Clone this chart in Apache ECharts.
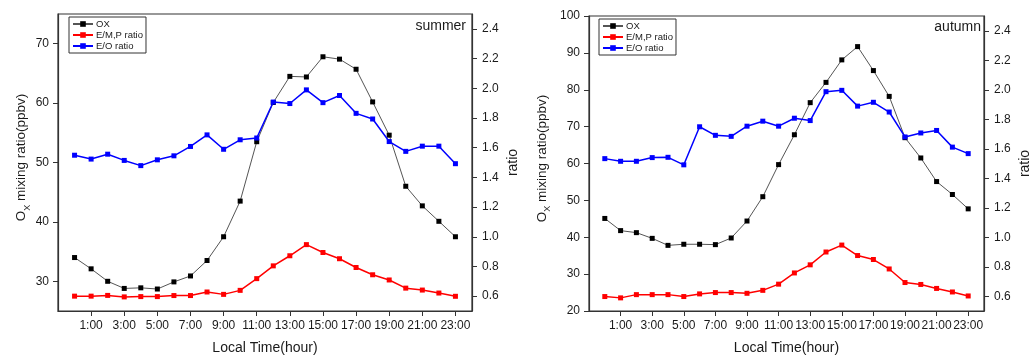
<!DOCTYPE html>
<html>
<head>
<meta charset="utf-8">
<script src="https://cdn.jsdelivr.net/npm/echarts@6/dist/echarts.min.js"></script>
<style>
html,body{margin:0;padding:0;background:#fff;}
#c{width:1033px;height:360px;}
</style>
</head>
<body>
<div id="c"></div>
<script>
// ---- data ----
const hours = [0,1,2,3,4,5,6,7,8,9,10,11,12,13,14,15,16,17,18,19,20,21,22,23];
const hourTicks = [1,3,5,7,9,11,13,15,17,19,21,23];
const seriesNames = ['OX', 'E/M,P ratio', 'E/O ratio'];
const panelTitles = ['summer', 'autumn'];

const summerOX  = [34.0,32.1,30.0,28.8,28.9,28.7,29.9,30.9,33.5,37.5,43.5,53.5,60.1,64.5,64.4,67.8,67.4,65.7,60.2,54.6,46.0,42.7,40.1,37.5];
const summerEMP = [0.60,0.60,0.605,0.595,0.597,0.597,0.604,0.604,0.628,0.612,0.639,0.718,0.804,0.872,0.947,0.894,0.852,0.793,0.744,0.709,0.654,0.641,0.621,0.599];
const summerEO  = [1.549,1.523,1.556,1.514,1.479,1.518,1.545,1.608,1.686,1.589,1.653,1.665,1.907,1.897,1.989,1.903,1.951,1.831,1.793,1.641,1.575,1.610,1.610,1.492];

const autumnOX  = [45.1,41.8,41.25,39.7,37.8,38.1,38.1,38.0,39.8,44.4,51.0,59.7,67.8,76.5,82.0,88.1,91.7,85.2,78.2,67.0,61.5,55.1,51.6,47.7];
const autumnEMP = [0.598,0.589,0.611,0.611,0.611,0.598,0.616,0.625,0.625,0.620,0.640,0.682,0.758,0.813,0.900,0.947,0.876,0.849,0.785,0.693,0.680,0.653,0.629,0.602];
const autumnEO  = [1.533,1.515,1.515,1.540,1.542,1.491,1.749,1.691,1.684,1.753,1.787,1.753,1.807,1.791,1.987,1.996,1.889,1.915,1.849,1.680,1.707,1.724,1.611,1.567];

const summerOXTicks = [30,40,50,60,70];
const ratioTicks = [0.6,0.8,1.0,1.2,1.4,1.6,1.8,2.0,2.2,2.4];

// ---- chart ----
const font = 'Liberation Sans, Arial, sans-serif';
const axisColor = '#333';
const textColor = '#1a1a1a';

function pairs(arr){ return hours.map((h,i)=>[h, arr[i]]); }

function xAxisFor(gi){
  return {
    type:'value', gridIndex:gi, min:-1, max:24,
    name:'Local Time(hour)', nameLocation:'middle', nameGap:30,
    nameTextStyle:{fontFamily:font, fontSize:14, color:textColor},
    axisLine:{show:true, onZero:false, lineStyle:{color:axisColor, width:1.2}},
    axisTick:{show:true, inside:false, length:5, customValues:hourTicks, lineStyle:{color:axisColor}},
    axisLabel:{customValues:hourTicks, formatter:v=>v+':00', fontFamily:font, fontSize:12, color:textColor, margin:9},
    splitLine:{show:false}
  };
}
function leftYAxis(gi, min, max, ticks, interval, gap){
  const a = {
    type:'value', gridIndex:gi, position:'left', min:min, max:max,
    name:'{n|O}{s|X}{n| mixing ratio(ppbv)}', nameLocation:'middle', nameGap:gap,
    nameTextStyle:{fontFamily:font, color:textColor, padding:[0,0,0,10],
      rich:{n:{fontFamily:font, fontSize:13.5, lineHeight:20, color:textColor},
            s:{fontFamily:font, fontSize:9, lineHeight:9, verticalAlign:'bottom', color:textColor}}},
    axisLine:{show:true, onZero:false, lineStyle:{color:axisColor, width:1.2}},
    axisTick:{show:true, inside:false, length:5, lineStyle:{color:axisColor}},
    axisLabel:{fontFamily:font, fontSize:12, color:textColor, margin:9},
    splitLine:{show:false}
  };
  if (ticks){ a.axisTick.customValues = ticks; a.axisLabel.customValues = ticks; }
  if (interval){ a.interval = interval; }
  return a;
}
function rightYAxis(gi){
  return {
    type:'value', gridIndex:gi, position:'right', min:0.5, max:2.5,
    name:'ratio', nameLocation:'middle', nameGap:34,
    nameTextStyle:{fontFamily:font, fontSize:14, color:textColor},
    axisLine:{show:true, onZero:false, lineStyle:{color:axisColor, width:1.2}},
    axisTick:{show:true, inside:false, length:5, customValues:ratioTicks, lineStyle:{color:axisColor}},
    axisLabel:{customValues:ratioTicks, formatter:v=>v.toFixed(1), fontFamily:font, fontSize:12, color:textColor, margin:10},
    splitLine:{show:false}
  };
}
function lineSeries(name, xi, yi, arr, color, width, lineColor){
  return {
    name:name, type:'line', xAxisIndex:xi, yAxisIndex:yi, data:pairs(arr),
    symbol:'rect', symbolSize:5, showSymbol:true,
    itemStyle:{color:color},
    lineStyle:{color:lineColor||color, width:width},
    emphasis:{disabled:true}, animation:false, z:yi
  };
}
function legendFor(left, top){
  return {
    orient:'vertical', left:left, top:top, padding:[2,3,2,3], itemGap:1,
    itemWidth:20, itemHeight:7, borderColor:'#333', borderWidth:1,
    data:seriesNames, selectedMode:false,
    textStyle:{fontFamily:font, fontSize:9.5, color:textColor, padding:[0,0,0,-2]}
  };
}

const option = {
  backgroundColor:'#fff',
  animation:false,
  title:[
    {text:panelTitles[0], right:1033-466, top:19, padding:0, textStyle:{fontFamily:font, fontSize:14, fontWeight:'normal', color:textColor}},
    {text:panelTitles[1], right:1033-981, top:20, padding:0, textStyle:{fontFamily:font, fontSize:14, fontWeight:'normal', color:textColor}}
  ],
  legend:[legendFor(69,17), legendFor(599,19)],
  grid:[
    {left:58, top:14, right:1033-472, bottom:44, show:true, borderColor:axisColor, borderWidth:1.2, backgroundColor:'transparent'},
    {left:589, top:16, right:1033-991, bottom:44, show:true, borderColor:axisColor, borderWidth:1.2, backgroundColor:'transparent'}
  ],
  xAxis:[xAxisFor(0), xAxisFor(1)],
  yAxis:[
    leftYAxis(0, 25, 75, summerOXTicks, null, 26),
    rightYAxis(0),
    leftYAxis(1, 20, 100, null, 10, 37),
    rightYAxis(1)
  ],
  series:[
    lineSeries(seriesNames[0], 0, 0, summerOX, '#000', 1, '#555'),
    lineSeries(seriesNames[1], 0, 1, summerEMP, '#ff0000', 1.5),
    lineSeries(seriesNames[2], 0, 1, summerEO, '#0000ff', 1.5),
    lineSeries(seriesNames[0], 1, 2, autumnOX, '#000', 1, '#555'),
    lineSeries(seriesNames[1], 1, 3, autumnEMP, '#ff0000', 1.5),
    lineSeries(seriesNames[2], 1, 3, autumnEO, '#0000ff', 1.5)
  ]
};
const chart = echarts.init(document.getElementById('c'), null, {renderer:'canvas'});
chart.setOption(option);
</script>
</body>
</html>
